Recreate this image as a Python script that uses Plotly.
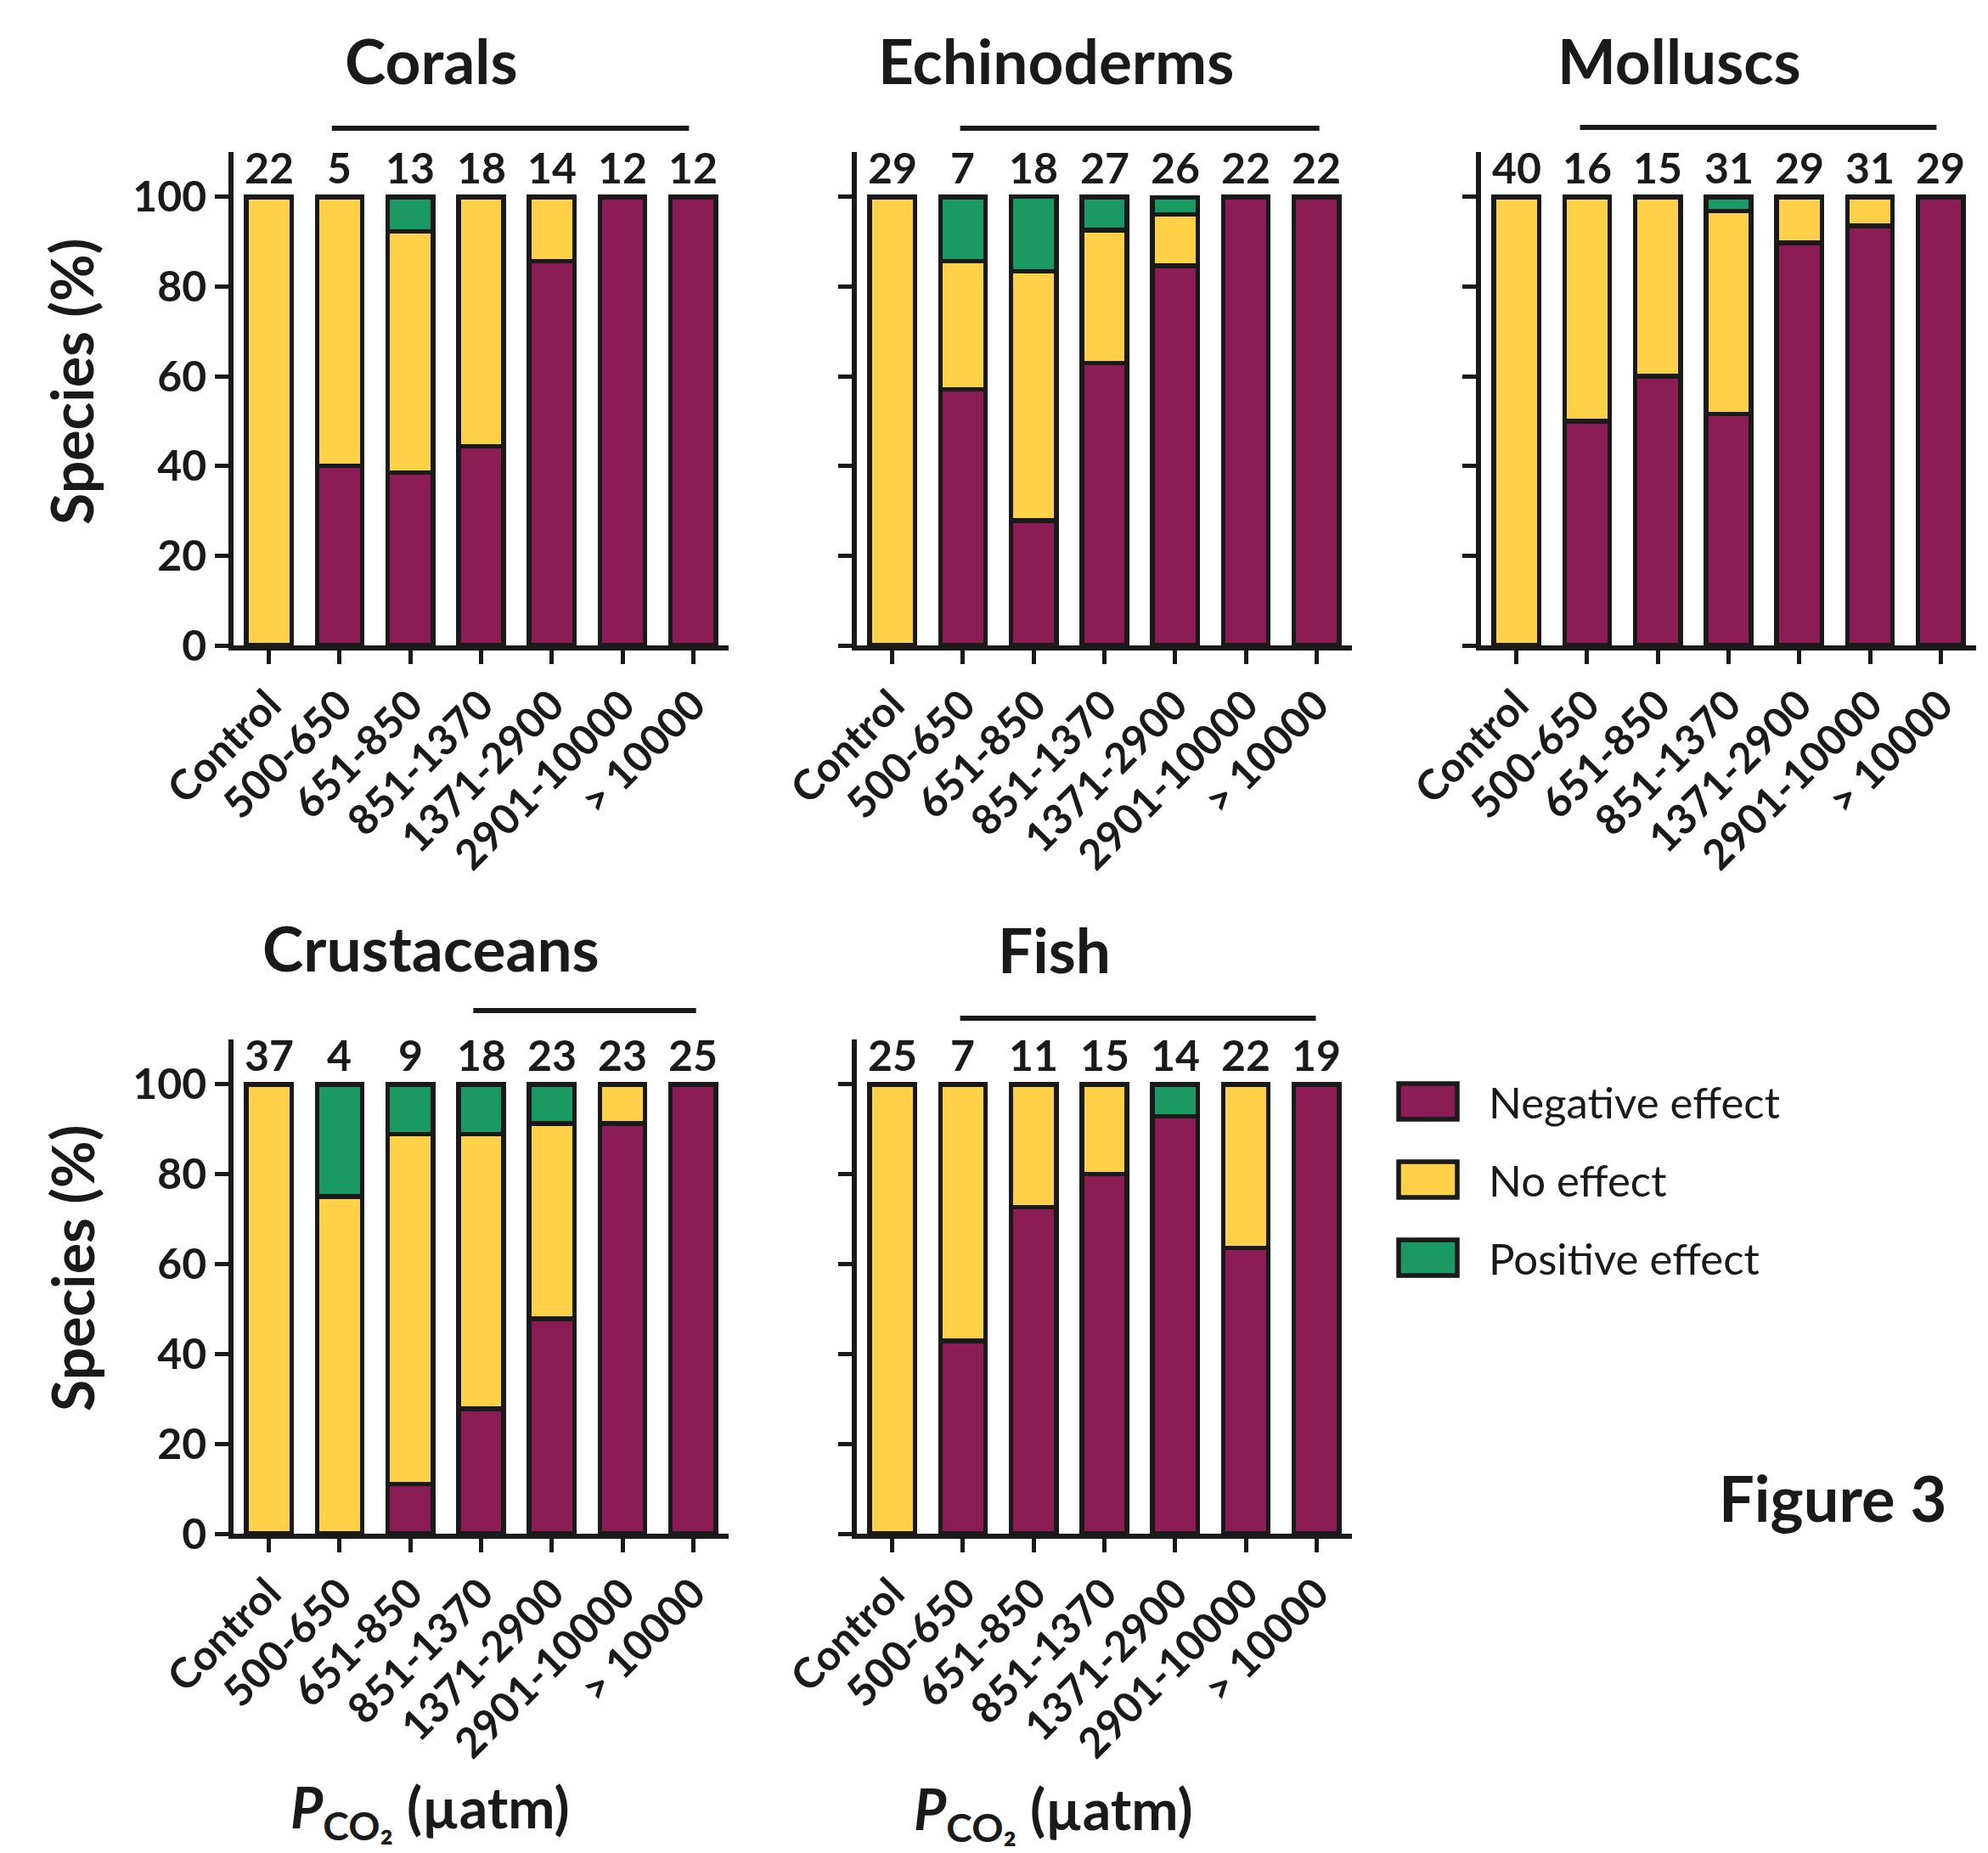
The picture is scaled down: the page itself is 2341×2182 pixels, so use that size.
import plotly.graph_objects as go

# ---------------- data ----------------
categories = ["Control", "500-650", "651-850", "851-1370", "1371-2900", "2901-10000", "> 10000"]

corals_n   = [22, 5, 13, 18, 14, 12, 12]
corals_neg = [0, 40.0, 38.5, 44.4, 85.7, 100, 100]
corals_no  = [100, 60.0, 53.8, 55.6, 14.3, 0, 0]
corals_pos = [0, 0, 7.7, 0, 0, 0, 0]

echino_n   = [29, 7, 18, 27, 26, 22, 22]
echino_neg = [0, 57.1, 27.8, 63.0, 84.6, 100, 100]
echino_no  = [100, 28.6, 55.6, 29.6, 11.5, 0, 0]
echino_pos = [0, 14.3, 16.7, 7.4, 3.8, 0, 0]

mollusc_n   = [40, 16, 15, 31, 29, 31, 29]
mollusc_neg = [0, 50.0, 60.0, 51.6, 89.7, 93.5, 100]
mollusc_no  = [100, 50.0, 40.0, 45.2, 10.3, 6.5, 0]
mollusc_pos = [0, 0, 0, 3.2, 0, 0, 0]

crust_n   = [37, 4, 9, 18, 23, 23, 25]
crust_neg = [0, 0, 11.1, 27.8, 47.8, 91.3, 100]
crust_no  = [100, 75.0, 77.8, 61.1, 43.5, 8.7, 0]
crust_pos = [0, 25.0, 11.1, 11.1, 8.7, 0, 0]

fish_n   = [25, 7, 11, 15, 14, 22, 19]
fish_neg = [0, 42.9, 72.7, 80.0, 92.9, 63.6, 100]
fish_no  = [100, 57.1, 27.3, 20.0, 0, 36.4, 0]
fish_pos = [0, 0, 0, 0, 7.1, 0, 0]

# significance bar spans (category index units)
corals_bar  = [0.89, 5.94]
echino_bar  = [0.96, 6.04]
mollusc_bar = [0.90, 5.94]
crust_bar   = [2.89, 6.04]
fish_bar    = [0.96, 5.99]

series_names = ["Negative effect", "No effect", "Positive effect"]
colors = ["#8C1C54", "#FED149", "#1B9964"]
ink = "#1a1a1a"
FONT = "Lato"

PAGE_W, PAGE_H = 2341, 2182
OFF = 8  # default body margin of the html page
W, H = PAGE_W - OFF, PAGE_H - OFF
col_px = [(275, 858), (1009, 1592), (1744, 2327)]
row_px = [(179, 760), (1224, 1806)]

panels = [
    ("Corals", 0, 0, corals_n, [corals_neg, corals_no, corals_pos], corals_bar, 151),
    ("Echinoderms", 0, 1, echino_n, [echino_neg, echino_no, echino_pos], echino_bar, 151),
    ("Molluscs", 0, 2, mollusc_n, [mollusc_neg, mollusc_no, mollusc_pos], mollusc_bar, 150),
    ("Crustaceans", 1, 0, crust_n, [crust_neg, crust_no, crust_pos], crust_bar, 1190),
    ("Fish", 1, 1, fish_n, [fish_neg, fish_no, fish_pos], fish_bar, 1199),
]
title_pos = {"Corals": (508, 71), "Echinoderms": (1243, 71), "Molluscs": (1977, 71),
             "Crustaceans": (508, 1116), "Fish": (1241, 1118)}

fig = go.Figure()
layout = dict(width=W, height=H, margin=dict(l=0, r=0, t=0, b=0, pad=0, autoexpand=False),
              paper_bgcolor="white", plot_bgcolor="white", barmode="stack",
              showlegend=False, font=dict(family=FONT, color=ink))
annotations = []
shapes = []

def px_x(p):
    return (p - OFF) / W

def px_y(p):
    return 1 - (p - OFF) / H

for i, (name, r, c, n, vals, sig, sig_y) in enumerate(panels):
    k = "" if i == 0 else str(i + 1)
    xa, ya = "x" + k, "y" + k
    for s in range(3):
        fig.add_trace(go.Bar(
            x=categories, y=[v if v else None for v in vals[s]],
            name=series_names[s], xaxis=xa, yaxis=ya, width=0.64,
            marker=dict(color=colors[s], line=dict(color=ink, width=5.5)),
            hoverinfo="x+y+name"))
    x0, x1 = col_px[c]
    yt, yb = row_px[r]
    layout["xaxis" + k] = dict(
        domain=[px_x(x0), px_x(x1)], anchor=ya, type="category",
        categoryorder="array", categoryarray=categories, range=[-0.5, 6.5],
        showline=True, linecolor=ink, linewidth=5.5, ticks="outside",
        ticklen=16, tickwidth=4.5, tickcolor=ink, tickangle=-45, automargin=False,
        tickfont=dict(family=FONT, size=49, color=ink, weight="bold"),
        showgrid=False, zeroline=False, fixedrange=True)
    layout["yaxis" + k] = dict(
        domain=[px_y(yb), px_y(yt)], anchor=xa, range=[0, 110],
        tickvals=[0, 20, 40, 60, 80, 100], showline=True, linecolor=ink,
        linewidth=5.5, ticks="outside", ticklen=16, tickwidth=4.5,
        tickcolor=ink, showticklabels=(c == 0), automargin=False,
        tickfont=dict(family=FONT, size=50, color=ink, weight="bold"),
        showgrid=False, zeroline=False, fixedrange=True)
    # counts
    for cat, cnt in zip(categories, n):
        annotations.append(dict(x=cat, y=106.6, xref=xa, yref=ya, text=str(cnt),
                                showarrow=False, yanchor="middle", xanchor="center",
                                font=dict(family=FONT, size=50, color=ink, weight="bold")))
    # significance bar
    shapes.append(dict(type="line", xref=xa, yref="paper", x0=sig[0], x1=sig[1],
                       y0=px_y(sig_y), y1=px_y(sig_y), line=dict(color=ink, width=6)))
    # panel title
    tx, ty = title_pos[name]
    annotations.append(dict(x=px_x(tx), y=px_y(ty), xref="paper", yref="paper",
                            text=name, showarrow=False, xanchor="center", yanchor="middle",
                            font=dict(family=FONT, size=73, color=ink, weight="bold")))

# y titles
for yc in (450, 1494):
    annotations.append(dict(x=px_x(84), y=px_y(yc), xref="paper", yref="paper",
                            text="Species (%)", textangle=-90, showarrow=False,
                            xanchor="center", yanchor="middle",
                            font=dict(family=FONT, size=68, color=ink, weight="bold")))

# x titles
for xc, yc in ((506, 2132), (1240, 2134)):
    annotations.append(dict(x=px_x(xc), y=px_y(yc), xref="paper", yref="paper",
                            text="<i>P</i><sub>CO₂</sub> (µatm)", showarrow=False,
                            xanchor="center", yanchor="middle",
                            font=dict(family=FONT, size=66, color=ink, weight="bold")))

# legend
leg_y = [1297, 1389, 1481]
for s in range(3):
    yc = leg_y[s]
    shapes.append(dict(type="rect", xref="paper", yref="paper",
                       x0=px_x(1647), x1=px_x(1716), y0=px_y(yc - 21), y1=px_y(yc + 21),
                       fillcolor=colors[s], line=dict(color=ink, width=5.5)))
    annotations.append(dict(x=px_x(1751), y=px_y(yc), xref="paper", yref="paper",
                            text=series_names[s], showarrow=False, xanchor="left",
                            yanchor="middle",
                            font=dict(family=FONT, size=51, color=ink)))

annotations.append(dict(x=px_x(2158), y=px_y(1763), xref="paper", yref="paper",
                        text="Figure 3", showarrow=False, xanchor="center", yanchor="middle",
                        font=dict(family=FONT, size=74, color=ink, weight="bold")))

layout["annotations"] = annotations
layout["shapes"] = shapes
fig.update_layout(**layout)
fig.write_html("out.html")
